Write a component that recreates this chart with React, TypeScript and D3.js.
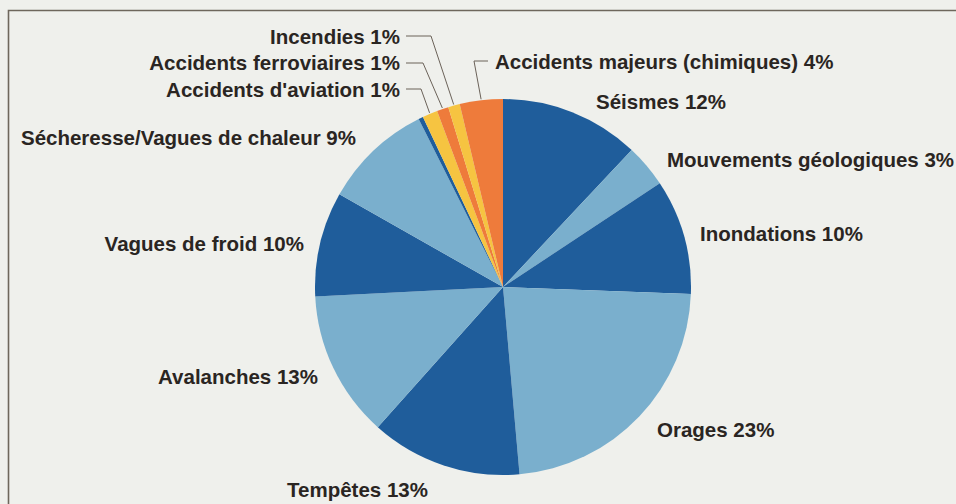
import React from "react";
import * as d3 from "d3";

// slices, clockwise from 12 o'clock (shares)
const categories = [
  "Séismes",
  "Mouvements géologiques",
  "Inondations",
  "Orages",
  "Tempêtes",
  "Avalanches",
  "Vagues de froid",
  "Sécheresse/Vagues de chaleur",
  "",
  "Accidents d'aviation",
  "Accidents ferroviaires",
  "Incendies",
  "Accidents majeurs (chimiques)",
];
const shares = [12, 3.7, 9.9, 23, 13, 12.6, 9, 9.4, 0.4, 1.3, 1, 1, 3.7];
const printedPct = ["12%", "3%", "10%", "23%", "13%", "13%", "10%", "9%", "", "1%", "1%", "1%", "4%"];
const tones = ["dark", "light", "dark", "light", "dark", "light", "dark", "light", "dark", "yellow", "orange", "yellow", "orange"];

const palette: Record<string, string> = {
  dark: "#1f5d9b",
  light: "#7aafcd",
  yellow: "#f6c441",
  orange: "#ee7b3b",
};

// label placement: [x, baseline y, anchor]; knee of the leader line if any
const labelPos: [number, number, string][] = [
  [596, 109, "start"],
  [667, 167, "start"],
  [700, 241, "start"],
  [657, 437, "start"],
  [287, 497, "start"],
  [318, 384, "end"],
  [304, 251, "end"],
  [356, 145, "end"],
  [0, 0, "end"],
  [400, 97, "end"],
  [400, 70, "end"],
  [400, 44, "end"],
  [495, 69, "start"],
];
const knees: ([number, number, number] | null)[] = [
  null, null, null, null, null, null, null, null, null,
  [406, 421, 89],
  [406, 423, 63],
  [406, 431, 36],
  [488, 474, 61],
];

const W = 956;
const H = 504;
const cx = 503;
const cy = 287;
const R = 188;

export default function App() {
  const pie = d3.pie<number>().sort(null).value((d) => d)(shares);
  const arc = d3.arc<d3.PieArcDatum<number>>().innerRadius(0).outerRadius(R);

  return (
    <svg width={W} height={H} style={{ position: "absolute", left: 0, top: 0 }}>
      <rect x={0} y={0} width={W} height={H} fill="#eff0ec" />
      <path d={`M8.5,${H} V10.5 H${W}`} fill="none" stroke="#6e675c" strokeWidth={1.6} />
      <g transform={`translate(${cx},${cy})`}>
        {pie.map((p, i) => (
          <path key={i} d={arc(p) || ""} fill={palette[tones[i]]} />
        ))}
      </g>
      {pie.map((p, i) => {
        const k = knees[i];
        if (!k) return null;
        const mid = (p.startAngle + p.endAngle) / 2;
        const ex = cx + Math.sin(mid) * (R + 1);
        const ey = cy - Math.cos(mid) * (R + 1);
        return (
          <polyline
            key={"l" + i}
            points={`${k[0]},${k[2]} ${k[1]},${k[2]} ${ex},${ey}`}
            fill="none"
            stroke="#6b6259"
            strokeWidth={1}
          />
        );
      })}
      <g
        fontFamily="'Liberation Sans', Arial, sans-serif"
        fontWeight="bold"
        fontSize={20.5}
        fill="#2a2522"
      >
        {categories.map((c, i) =>
          c ? (
            <text key={"t" + i} x={labelPos[i][0]} y={labelPos[i][1]} textAnchor={labelPos[i][2]}>
              {c} {printedPct[i]}
            </text>
          ) : null
        )}
      </g>
    </svg>
  );
}
